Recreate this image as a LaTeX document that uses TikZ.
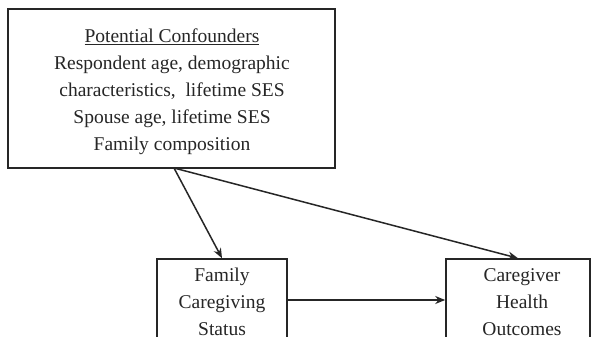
\documentclass[tikz,border=0pt]{standalone}
\usepackage{fontspec}
\setmainfont{Liberation Serif}
\usetikzlibrary{arrows.meta}
\begin{document}
\begin{tikzpicture}[x=1pt,y=-1pt,
  boxstyle/.style={draw=black!85, line width=1.6pt, inner sep=0pt, anchor=center},
  txt/.style={align=center, inner sep=0pt, font=\fontsize{19.5}{27}\selectfont, text=black!85},
  arr/.style={draw=black!85, line width=1.5pt, -{Stealth[length=10pt,width=8pt]}}]
\useasboundingbox (0,0) rectangle (592,337);
\clip (0,0) rectangle (592,337);
\fill[white] (0,0) rectangle (592,337);
\node[boxstyle, minimum width=327pt, minimum height=159pt] (conf) at (171.5,88.5) {};
\node[txt] (conftext) at (172,92) {\underline{Potential Confounders}\\Respondent age, demographic\\characteristics,\ \ lifetime SES\\Spouse age, lifetime SES\\Family composition};
\node[boxstyle, minimum width=130pt, minimum height=86pt] (fam) at (222,302) {};
\node[txt] (famtext) at (222,302) {Family\\Caregiving\\Status};
\node[boxstyle, minimum width=144pt, minimum height=86pt] (out) at (518,302) {};
\node[txt] (outtext) at (522,302) {Caregiver\\Health\\Outcomes};
\coordinate (s) at (174,168);
\draw[arr] (s) -- (fam.north);
\draw[arr] (s) -- (out.north);
\draw[arr] ([yshift=2pt]fam.east) -- ([yshift=2pt]out.west);
\end{tikzpicture}
\end{document}
